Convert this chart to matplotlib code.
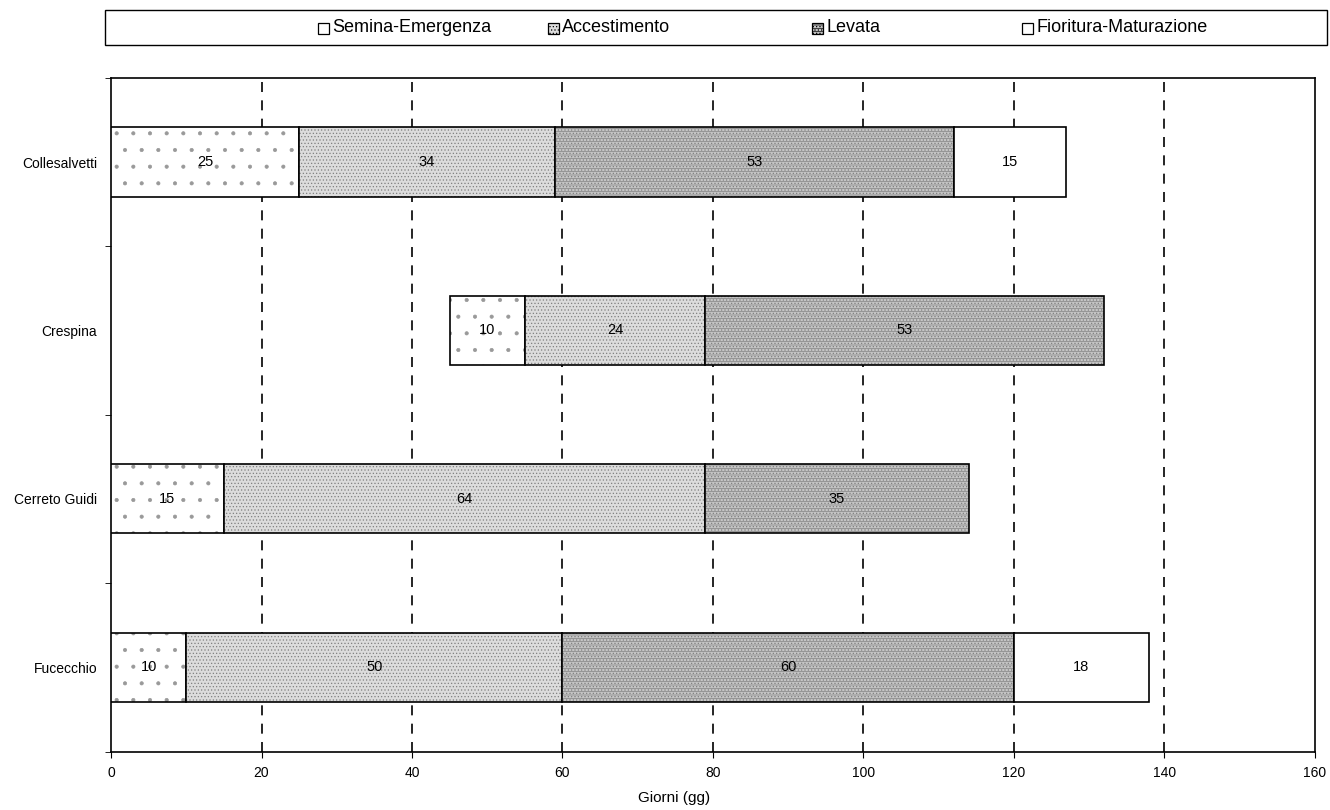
import matplotlib.pyplot as plt
import matplotlib.patches as mpatches
import matplotlib.colors as mcolors
import numpy as np

plt.rcParams['font.family'] = ['Liberation Sans', 'DejaVu Sans']
plt.rcParams['hatch.linewidth'] = 0.5

# data
localita = ['Collesalvetti', 'Crespina', 'Cerreto Guidi', 'Fucecchio']
inizio = [0, 45, 0, 0]  # Crespina starts later
fasi = ['Semina-Emergenza', 'Accestimento', 'Levata', 'Fioritura-Maturazione']
semina = [25, 10, 15, 10]
accestimento = [34, 24, 64, 50]
levata = [53, 53, 35, 60]
fioritura = [15, 0, 0, 18]

valori = [semina, accestimento, levata, fioritura]
colori = ['white', '#dcdcdc', '#c6c6c6', 'white']
tratteggi = ['.', '.....', '-----.....', None]
hatch_col = ['#999999', '#808080', '#808080', 'black']

fig = plt.figure(figsize=(13.3, 8.1), dpi=100)
ax = fig.add_axes([0.0835, 0.072, 0.905, 0.832])

y = np.arange(len(localita))
left = np.array(inizio, dtype=float)
for k in range(4):
    vals = np.array(valori[k], dtype=float)
    for i in range(len(localita)):
        if vals[i] == 0:
            continue
        b = ax.barh(y[i], vals[i], left=left[i], height=0.41, color=colori[k],
                    edgecolor='black', linewidth=1.2, hatch=tratteggi[k], zorder=3)
        for p in b:
            p._hatch_color = mcolors.to_rgba(hatch_col[k])
        ax.text(left[i] + vals[i] / 2, y[i], str(int(vals[i])), ha='center', va='center',
                fontsize=10.5, zorder=4)
    left = left + vals

ax.set_xlim(0, 160)
ax.set_ylim(3.5, -0.5)
ax.set_xticks(np.arange(0, 161, 20))
ax.set_yticks(y)
ax.set_yticklabels(localita, fontsize=10)
ax.set_yticks(np.arange(-0.5, 3.6, 1), minor=True)
ax.tick_params(axis='y', which='major', length=0, pad=10)
ax.tick_params(axis='y', which='minor', length=4, direction='out')
ax.tick_params(axis='x', length=4, direction='out', labelsize=10, pad=6)
ax.set_xlabel('Giorni (gg)', fontsize=11)
ax.xaxis.set_label_coords(0.468, -0.058)
for xv in np.arange(20, 141, 20):
    ax.axvline(xv, color='black', linestyle=(0, (6, 5)), linewidth=1.2, zorder=1)
for s in ax.spines.values():
    s.set_linewidth(1.2)

# legend box on top, entries placed like the original
fig.patches.append(mpatches.Rectangle((0.079, 0.945), 0.919, 0.043, transform=fig.transFigure,
                                      fill=False, edgecolor='black', linewidth=1.0))
leg_x = [318, 548, 812, 1022]
W, H = 1330, 810
for k in range(4):
    x0 = leg_x[k] / W
    fig.patches.append(mpatches.Rectangle((x0, 1 - 34 / H), 11 / W, 11 / H,
                                          transform=fig.transFigure, facecolor=colori[k],
                                          edgecolor='black', linewidth=0.9,
                                          hatch=tratteggi[k]))
    fig.text(x0 + 14 / W, 1 - 28 / H, fasi[k], fontsize=13, va='center', ha='left')

fig.savefig('out.png', dpi=100)
